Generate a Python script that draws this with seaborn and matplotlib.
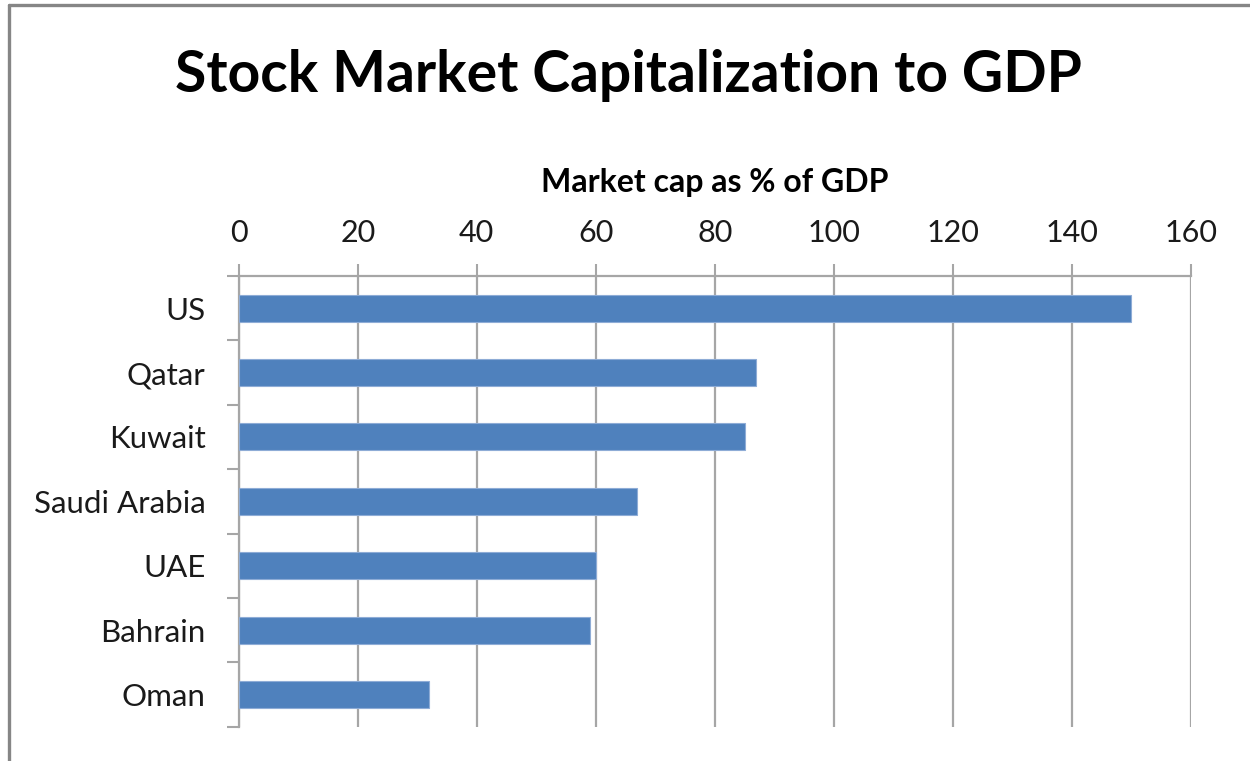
import matplotlib
matplotlib.use("Agg")
import matplotlib.pyplot as plt
from matplotlib.lines import Line2D
from matplotlib.ticker import FixedLocator
import seaborn as sns
import pandas as pd

countries = ["US", "Qatar", "Kuwait", "Saudi Arabia", "UAE", "Bahrain", "Oman"]
market_cap_pct_gdp = [150, 87, 85, 67, 60, 59, 32]
x_ticks = [0, 20, 40, 60, 80, 100, 120, 140, 160]

title = "Stock Market Capitalization to GDP"
x_label = "Market cap as % of GDP"

sns.set_style("white")
plt.rcParams["font.family"] = ["Lato", "DejaVu Sans"]

df = pd.DataFrame({"country": countries, "value": market_cap_pct_gdp})

fig = plt.figure(figsize=(12.5, 7.61), dpi=100)
ax = fig.add_axes([0.191, 0.0451, 0.7616, 0.5922])

grid_c = "#A6A6A6"
sns.barplot(data=df, x="value", y="country", orient="h", color="#4F81BD",
            saturation=1, width=0.42, edgecolor="#8EACD6", linewidth=0.8,
            ax=ax, zorder=3)

ax.set_xlim(0, 160)
ax.set_ylim(6.5, -0.5)
ax.xaxis.tick_top()
ax.xaxis.set_label_position("top")
ax.set_xticks(x_ticks)
ax.set_xticklabels([str(t) for t in x_ticks], fontsize=22, color="#1a1a1a")
ax.set_xlabel(x_label, fontsize=23, fontweight="bold", labelpad=19, color="black")
ax.set_ylabel("")
ax.tick_params(axis="x", which="major", direction="out", length=9, width=1.5,
               color=grid_c, pad=12, top=True, bottom=False)

# category labels at centres, separator ticks between categories
ax.yaxis.set_major_locator(FixedLocator(range(len(countries))))
ax.set_yticklabels(countries, fontsize=22.5, color="#1a1a1a")
ax.tick_params(axis="y", which="major", length=0, pad=24)
ax.yaxis.set_minor_locator(FixedLocator([i - 0.5 for i in range(len(countries) + 1)]))
ax.tick_params(axis="y", which="minor", direction="out", length=9, width=1.5,
               color=grid_c, left=True)

ax.grid(axis="x", color=grid_c, linewidth=1.6, zorder=0)
ax.grid(axis="y", visible=False)
for side in ("right", "bottom"):
    ax.spines[side].set_visible(False)
for side in ("top", "left"):
    ax.spines[side].set_color(grid_c)
    ax.spines[side].set_linewidth(1.6)

fig.text(0.503, 0.901, title, ha="center", va="center", fontsize=41,
         fontweight="bold", color="black")

# outer chart frame (top and left edges)
fig.add_artist(Line2D([0.0068, 0.0068], [0, 0.994], transform=fig.transFigure,
                      color="#868686", linewidth=2.4))
fig.add_artist(Line2D([0.0068, 1.0], [0.994, 0.994], transform=fig.transFigure,
                      color="#868686", linewidth=2.4))

fig.savefig("out.png", dpi=100, facecolor="white")
